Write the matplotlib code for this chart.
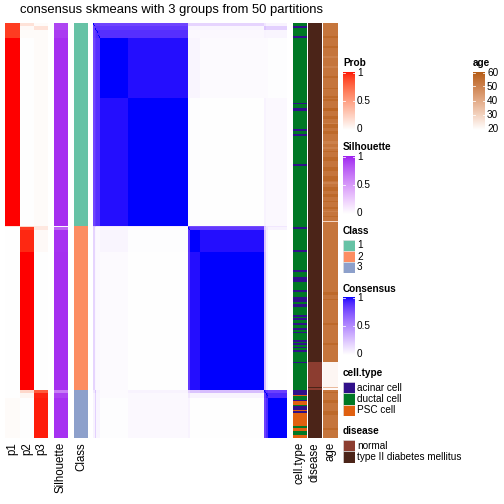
import numpy as np
import matplotlib
matplotlib.use('Agg')
import matplotlib.pyplot as plt
from matplotlib.colors import ListedColormap, to_rgb

plt.rcParams['font.family'] = ['Liberation Sans', 'DejaVu Sans']

W = H = 504

# ---------------- data ----------------
n_rows = 250
class_sizes = [122, 99, 29]
class_colors = ['#66C2A5', '#FC8D62', '#8DA0CB']

# membership probabilities / silhouette, per row segment (segment start rows)
seg_starts = [0, 2, 4, 9, 122, 123, 125, 138, 221, 223, 226]
p1_vals = [0.9, 0.9, 0.9, 1.0, 0.15, 0.0, 0.0, 0.0, 0.0, 0.0, 0.02]
p2_vals = [0.15, 0.03, 0.02, 0.0, 0.2, 0.9, 0.95, 1.0, 0.2, 0.05, 0.0]
p3_vals = [0.02, 0.15, 0.02, 0.02, 0.12, 0.12, 0.03, 0.0, 0.8, 0.96, 0.97]
sil_vals = [0.88, 0.88, 0.92, 0.96, 0.05, 0.75, 0.95, 0.96, 0.65, 0.9, 0.95]

# consensus matrix, by sample group
cons_sizes = [2, 2, 5, 36, 77, 1, 2, 13, 83, 2, 3, 24]
cons_table = [
    [0.82, 0.82, 0.82, 0.80, 0.80, 0.25, 0.20, 0.18, 0.18, 0.10, 0.05, 0.05],
    [0.82, 0.86, 0.86, 0.85, 0.85, 0.20, 0.05, 0.04, 0.04, 0.25, 0.20, 0.20],
    [0.82, 0.86, 0.90, 0.88, 0.88, 0.10, 0.03, 0.03, 0.03, 0.05, 0.04, 0.04],
    [0.80, 0.85, 0.88, 1.00, 0.975, 0.10, 0.04, 0.04, 0.02, 0.02, 0.02, 0.01],
    [0.80, 0.85, 0.88, 0.975, 1.00, 0.10, 0.02, 0.01, 0.00, 0.05, 0.03, 0.03],
    [0.25, 0.20, 0.10, 0.10, 0.10, 1.00, 0.80, 0.78, 0.78, 0.25, 0.10, 0.10],
    [0.20, 0.05, 0.03, 0.04, 0.02, 0.80, 0.92, 0.86, 0.85, 0.20, 0.10, 0.05],
    [0.18, 0.04, 0.03, 0.04, 0.01, 0.78, 0.86, 1.00, 0.975, 0.25, 0.05, 0.00],
    [0.18, 0.04, 0.03, 0.02, 0.00, 0.78, 0.85, 0.975, 1.00, 0.28, 0.05, 0.00],
    [0.10, 0.25, 0.05, 0.02, 0.05, 0.25, 0.20, 0.25, 0.28, 0.92, 0.85, 0.82],
    [0.05, 0.20, 0.04, 0.02, 0.03, 0.10, 0.10, 0.05, 0.05, 0.85, 0.96, 0.90],
    [0.05, 0.20, 0.04, 0.01, 0.03, 0.10, 0.05, 0.00, 0.00, 0.82, 0.90, 1.00],
]

# cell.type: ductal by default, (start_row, n_rows) runs of the others
cell_types = ['acinar cell', 'ductal cell', 'PSC cell']
cell_colors = ['#30108A', '#007825', '#E06010']
acinar_runs = [(2, 1), (8, 1), (48, 1), (51, 2), (64, 1), (67, 1), (85, 1), (123, 1),
               (137, 1), (149, 1), (153, 3), (161, 1), (165, 3), (169, 2), (176, 1),
               (178, 1), (181, 1), (184, 1), (186, 1), (191, 1), (193, 1), (195, 1),
               (197, 1), (204, 1), (221, 3), (227, 1), (231, 2), (234, 1)]
psc_runs = [(224, 1), (228, 2), (233, 1), (235, 8), (244, 2), (248, 2)]

# disease: type II by default
disease_names = ['normal', 'type II diabetes mellitus']
disease_colors = ['#8C3D30', '#4B2418']
normal_runs = [(204, 15), (220, 1)]

# age: base value with (start_row, n_rows, age) runs
age_base = 53
age_runs = [(8, 1, 56), (14, 1, 56), (20, 1, 50), (26, 1, 50), (32, 1, 56), (39, 1, 56),
            (44, 1, 56), (46, 1, 56), (51, 2, 57), (56, 2, 56), (60, 1, 50), (61, 2, 56),
            (65, 2, 56), (71, 2, 50), (75, 1, 50), (77, 1, 56), (81, 2, 56), (87, 2, 56),
            (92, 3, 56), (96, 1, 50), (99, 2, 56), (103, 2, 56), (107, 1, 56), (111, 1, 56),
            (113, 1, 50), (116, 1, 56), (119, 1, 30), (162, 2, 56), (166, 1, 56),
            (181, 1, 56), (193, 1, 56), (204, 15, 22), (219, 1, 36), (220, 1, 21),
            (222, 1, 56), (227, 2, 56), (234, 2, 56), (244, 1, 56)]


# ---------------- colours (LAB interpolation, like colorRamp2) ----------------
M = np.array([[0.4124, 0.3576, 0.1805], [0.2126, 0.7152, 0.0722], [0.0193, 0.1192, 0.9505]])
Minv = np.linalg.inv(M)
WHITE = np.array([0.95047, 1.0, 1.08883])
D = 6 / 29


def hex_to_lab(c):
    rgb = np.array(to_rgb(c))
    lin = np.where(rgb <= 0.04045, rgb / 12.92, ((rgb + 0.055) / 1.055) ** 2.4)
    xyz = M @ lin / WHITE
    f = np.where(xyz > D ** 3, np.cbrt(xyz), xyz / (3 * D * D) + 4 / 29)
    return np.array([116 * f[1] - 16, 500 * (f[0] - f[1]), 200 * (f[1] - f[2])])


def lab_to_rgb(lab):
    L, a, b = lab[:, 0], lab[:, 1], lab[:, 2]
    fy = (L + 16) / 116
    f = np.stack([fy + a / 500, fy, fy - b / 200], axis=1)
    xyz = np.where(f > D, f ** 3, 3 * D * D * (f - 4 / 29)) * WHITE
    lin = np.clip(xyz @ Minv.T, 0, 1)
    rgb = np.where(lin <= 0.0031308, 12.92 * lin, 1.055 * lin ** (1 / 2.4) - 0.055)
    return np.clip(rgb, 0, 1)


def lab_cmap(c0, c1, n=256):
    l0, l1 = hex_to_lab(c0), hex_to_lab(c1)
    t = np.linspace(0, 1, n)[:, None]
    return ListedColormap(lab_to_rgb(l0 + (l1 - l0) * t))


red_cmap = lab_cmap('#FFFFFF', '#FF0000')
purple_cmap = lab_cmap('#FFFFFF', '#A020F0')
blue_cmap = lab_cmap('#FFFFFF', '#0000FF')
age_cmap = lab_cmap('#FFFFFF', '#B35A10')

# ---------------- build per-row arrays ----------------
seg_len = np.diff(seg_starts + [n_rows])
p1 = np.repeat(p1_vals, seg_len)
p2 = np.repeat(p2_vals, seg_len)
p3 = np.repeat(p3_vals, seg_len)
sil = np.repeat(sil_vals, seg_len)
cls = np.repeat(np.arange(3), class_sizes)

grp = np.repeat(np.arange(len(cons_sizes)), cons_sizes)
cons = np.array(cons_table)[np.ix_(grp, grp)]
np.fill_diagonal(cons, 1.0)

ct = np.ones(n_rows, dtype=int)
for s, n in acinar_runs:
    ct[s:s + n] = 0
for s, n in psc_runs:
    ct[s:s + n] = 2
dis = np.ones(n_rows, dtype=int)
for s, n in normal_runs:
    dis[s:s + n] = 0
age = np.full(n_rows, float(age_base))
for s, n, v in age_runs:
    age[s:s + n] = v

# ---------------- figure ----------------
fig = plt.figure(figsize=(W / 72, H / 72), dpi=72)


def px_axes(x0, y0, x1, y1):
    ax = fig.add_axes([x0 / W, 1 - y1 / H, (x1 - x0) / W, (y1 - y0) / H])
    ax.axis('off')
    return ax


def fig_text(x, y, s, **kw):
    fig.text(x / W, 1 - y / H, s, **kw)


TOP, BOT = 23, 438


def column(x0, x1, values, label, cmap=None, vmin=0, vmax=1, colors=None):
    ax = px_axes(x0, TOP, x1, BOT)
    if colors is not None:
        img = np.array([to_rgb(colors[v]) for v in values])[:, None, :]
        ax.imshow(img, aspect='auto', interpolation='nearest')
    else:
        ax.imshow(np.asarray(values)[:, None], cmap=cmap, vmin=vmin, vmax=vmax,
                  aspect='auto', interpolation='nearest')
    fig_text((x0 + x1) / 2, BOT + 4, label, rotation=90, ha='center', va='top', fontsize=11.5)


column(5, 20, p1, 'p1', red_cmap)
column(20, 34, p2, 'p2', red_cmap)
column(34, 48, p3, 'p3', red_cmap)
column(54, 68, sil, 'Silhouette', purple_cmap)
column(74, 88, cls, 'Class', colors=class_colors)

ax = px_axes(93, TOP, 287, BOT)
ax.imshow(cons, cmap=blue_cmap, vmin=0, vmax=1, aspect='auto', interpolation='nearest')

column(293, 307, ct, 'cell.type', colors=cell_colors)
column(308, 322, dis, 'disease', colors=disease_colors)
column(323, 338, age, 'age', age_cmap, vmin=20, vmax=60)

fig_text(171.5, 10, 'consensus skmeans with 3 groups from 50 partitions',
         ha='center', va='center', fontsize=13)


# ---------------- legends ----------------
def color_legend(x, y_title, y0, y1, title, cmap, vmin, vmax, ticks, labels):
    fig_text(x, y_title, title, ha='left', va='center', fontsize=10, fontweight='bold')
    ax = px_axes(x, y0, x + 12, y1)
    grad = np.linspace(vmax, vmin, 200)[:, None]
    ax.imshow(grad, cmap=cmap, vmin=vmin, vmax=vmax, aspect='auto',
              extent=[0, 1, vmin, vmax])
    ax.set_xlim(0, 1)
    ax.set_ylim(vmin, vmax)
    for t in ticks:
        yy = min(max(t, vmin + (vmax - vmin) * 0.01), vmax - (vmax - vmin) * 0.01)
        ax.plot([0, 0.2], [yy, yy], color='white', lw=0.8)
        ax.plot([0.8, 1], [yy, yy], color='white', lw=0.8)
    for t, lab in zip(ticks, labels):
        yy = y1 - (t - vmin) / (vmax - vmin) * (y1 - y0 - 2) - 1
        fig_text(x + 14, yy, lab, ha='left', va='center', fontsize=10)


def square_legend(x, y_title, y0, step, title, colors, labels):
    fig_text(x, y_title, title, ha='left', va='center', fontsize=10, fontweight='bold')
    for i, (c, lab) in enumerate(zip(colors, labels)):
        ax = px_axes(x, y0 + i * step, x + 12, y0 + (i + 1) * step)
        ax.add_patch(plt.Rectangle((0, 0), 1, 1, facecolor=c, edgecolor='#DDDDDD', lw=0.6))
        ax.set_xlim(0, 1)
        ax.set_ylim(0, 1)
        fig_text(x + 14, y0 + (i + 0.5) * step, lab, ha='left', va='center', fontsize=10)


color_legend(343, 63, 72, 130, 'Prob', red_cmap, 0, 1, [0, 0.5, 1], ['0', '0.5', '1'])
color_legend(473, 63, 72, 130, 'age', age_cmap, 20, 60, [20, 30, 40, 50, 60],
             ['20', '30', '40', '50', '60'])
color_legend(343, 147, 156, 214, 'Silhouette', purple_cmap, 0, 1, [0, 0.5, 1],
             ['0', '0.5', '1'])
square_legend(343, 231, 240, 11, 'Class', class_colors, ['1', '2', '3'])
color_legend(343, 289, 297, 355, 'Consensus', blue_cmap, 0, 1, [0, 0.5, 1],
             ['0', '0.5', '1'])
square_legend(343, 373, 382, 11.3, 'cell.type', cell_colors, cell_types)
square_legend(343, 431, 440, 11.3, 'disease', disease_colors, disease_names)

fig.savefig('out.png', dpi=72)
